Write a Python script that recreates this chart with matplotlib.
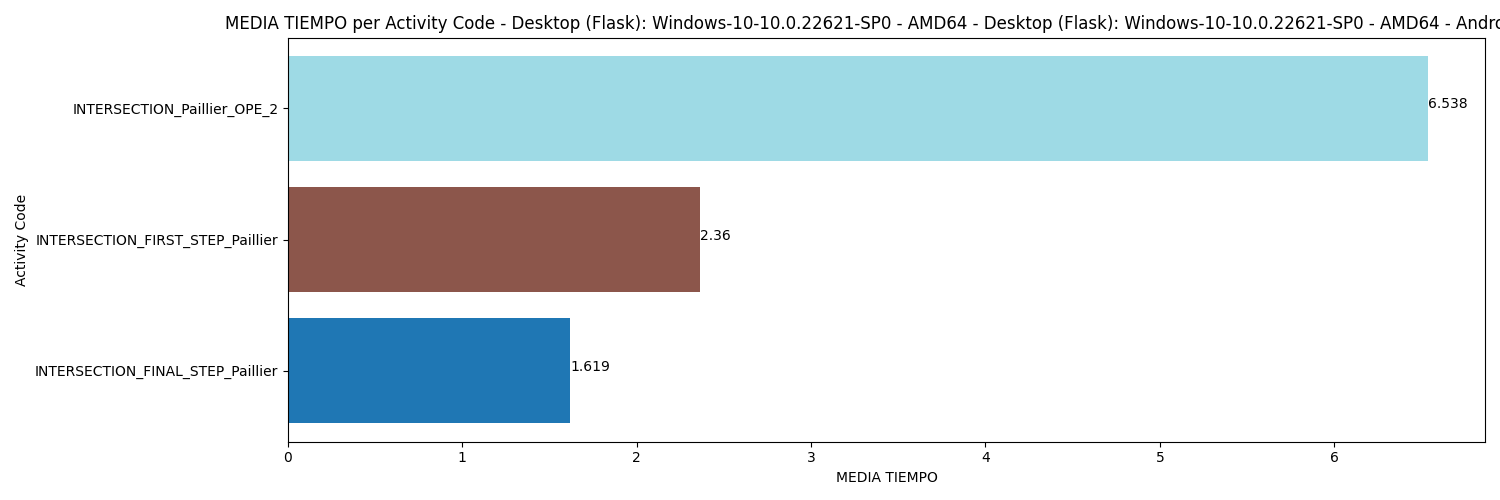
import numpy as np
import matplotlib
matplotlib.use('Agg')
import matplotlib.pyplot as plt

# data
activity_codes = ['INTERSECTION_FINAL_STEP_Paillier',
                  'INTERSECTION_FIRST_STEP_Paillier',
                  'INTERSECTION_Paillier_OPE_2']
media_tiempo = [1.619, 2.36, 6.538]

title = ('MEDIA TIEMPO per Activity Code - Desktop (Flask): Windows-10-10.0.22621-SP0 - AMD64'
         ' - Desktop (Flask): Windows-10-10.0.22621-SP0 - AMD64 - Android - A')

colors = plt.cm.tab20(np.linspace(0, 1, len(activity_codes)))

fig, ax = plt.subplots(figsize=(15, 5), dpi=100)
ax.barh(activity_codes, media_tiempo, color=colors)

for i, v in enumerate(media_tiempo):
    ax.text(v, i, str(v))

ax.set_xlabel('MEDIA TIEMPO')
ax.set_ylabel('Activity Code')
ax.set_title(title)

fig.subplots_adjust(left=0.192, right=0.99, top=0.925, bottom=0.117)
fig.savefig('out.png', dpi=100)
